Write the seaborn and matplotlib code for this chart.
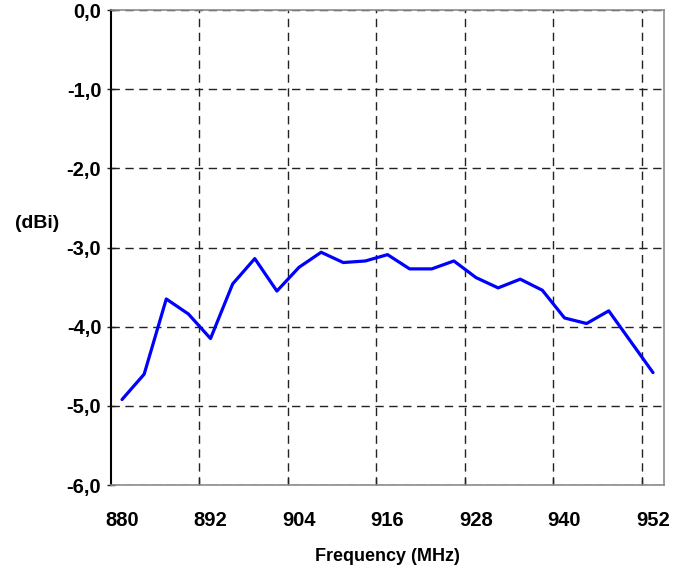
"""
Antenna gain vs frequency (line chart)
"""

import matplotlib

matplotlib.use("Agg")

import matplotlib.pyplot as plt
import matplotlib.ticker as mticker
import pandas as pd
import seaborn as sns

# ==========================================================
# Data
# ==========================================================

frequency_mhz = [
    880, 883, 886, 889, 892, 895, 898, 901, 904, 907, 910, 913, 916,
    919, 922, 925, 928, 931, 934, 937, 940, 943, 946, 949, 952,
]

gain_dbi = [
    -4.92, -4.60, -3.65, -3.84, -4.15, -3.46, -3.14, -3.55, -3.25,
    -3.06, -3.19, -3.17, -3.09, -3.27, -3.27, -3.17, -3.38, -3.51,
    -3.40, -3.54, -3.89, -3.96, -3.80, -4.19, -4.58,
]

x_tick_values = [880, 892, 904, 916, 928, 940, 952]
y_tick_values = [0, -1, -2, -3, -4, -5, -6]

# ==========================================================
# Style
# ==========================================================

sns.set_theme(style="white")
plt.rcParams["font.family"] = ["Liberation Sans", "DejaVu Sans"]
plt.rcParams["font.weight"] = "bold"
plt.rcParams["text.color"] = "black"
plt.rcParams["axes.labelcolor"] = "black"
plt.rcParams["xtick.color"] = "black"
plt.rcParams["ytick.color"] = "black"

df = pd.DataFrame({"frequency": frequency_mhz, "gain": gain_dbi})

fig = plt.figure(figsize=(6.91, 5.75), dpi=100)
ax = fig.add_axes([0.1606, 0.1565, 0.8004, 0.8261])

sns.lineplot(
    data=df,
    x="frequency",
    y="gain",
    color="#0000FF",
    linewidth=2.3,
    ax=ax,
)

# category style axis: half a step of padding on each side
step = frequency_mhz[1] - frequency_mhz[0]
ax.set_xlim(frequency_mhz[0] - step / 2, frequency_mhz[-1] + step / 2)
ax.set_ylim(-6, 0)

ax.set_xticks(x_tick_values)
ax.set_xticklabels([str(v) for v in x_tick_values], fontsize=14.5,
                   fontweight="bold")

# gridlines sit on the category boundaries, every 4 categories
boundaries = [v + 4 * step - step / 2 for v in x_tick_values[:-1]]
ax.xaxis.set_minor_locator(mticker.FixedLocator(boundaries))

ax.set_yticks(y_tick_values)
ax.yaxis.set_major_formatter(
    mticker.FuncFormatter(lambda v, _: f"{v:.1f}".replace(".", ","))
)
for label in ax.get_yticklabels():
    label.set_fontsize(14.5)
    label.set_fontweight("bold")

ax.tick_params(axis="x", which="major", length=0, pad=19)
ax.tick_params(axis="x", which="minor", direction="in", length=5,
               width=1, color="#222222", bottom=True)
ax.tick_params(axis="y", which="major", direction="inout", length=6,
               width=1, color="#222222", pad=4, left=True)

ax.grid(False)
ax.grid(axis="x", which="minor", color="#222222", linestyle=(0, (6, 4)),
        linewidth=1)
ax.grid(axis="y", which="major", color="#222222", linestyle=(0, (6, 4)),
        linewidth=1)

for side in ["top", "right", "bottom"]:
    ax.spines[side].set_color("#8c8c8c")
    ax.spines[side].set_linewidth(1.2)
ax.spines["left"].set_color("#000000")
ax.spines["left"].set_linewidth(1.5)

ax.set_xlabel("Frequency (MHz)", fontsize=13, fontweight="bold", labelpad=13)
ax.set_ylabel("(dBi)", fontsize=14, fontweight="bold", rotation=0)
ax.yaxis.set_label_coords(-0.134, 0.532)

fig.savefig("out.png", dpi=100, facecolor="white")
plt.close(fig)
